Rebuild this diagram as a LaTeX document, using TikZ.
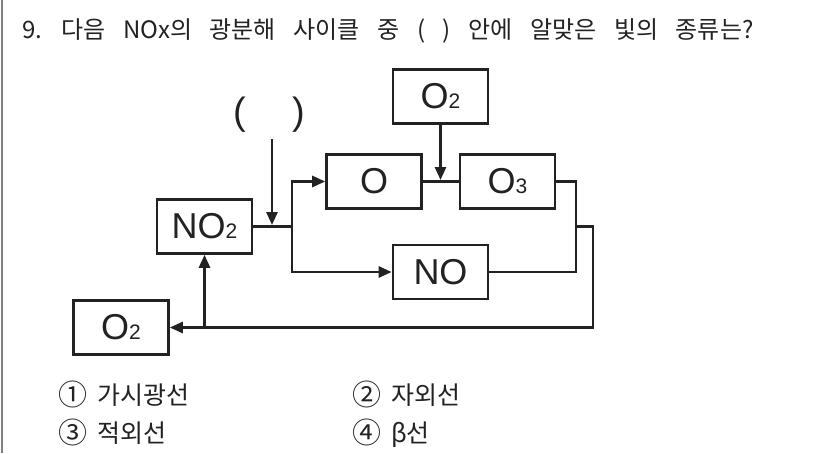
\documentclass[tikz,border=0pt]{standalone}
\usepackage{fontspec}
\setmainfont{Liberation Sans}
\newfontfamily\kr{Noto Sans CJK KR}
\usetikzlibrary{arrows.meta}
\definecolor{ink}{HTML}{222222}
\newcommand\smalldigit[1]{{\fontsize{21}{21}\selectfont #1}}
\newcommand\circnum[1]{{\fontsize{29}{29}\selectfont\raisebox{-1.5pt}{#1}}}
\begin{document}
\begin{tikzpicture}[x=1pt,y=-1pt,
  box/.style={draw=ink,line width=2.6pt,minimum width=95pt,minimum height=54pt,inner sep=0pt,
    font=\fontsize{36}{36}\selectfont,text=ink},
  conn/.style={draw=ink,line width=2.6pt},
  arr/.style={conn,-{Triangle[length=13pt,width=11pt]}},
  krtext/.style={anchor=base west,inner sep=0pt,text=ink},
  opt/.style={krtext,font=\kr\fontsize{25}{25}\selectfont}]
\useasboundingbox (0,0) rectangle (826,453);
\fill[white] (0,0) rectangle (826,453);
\draw[gray,line width=1.5pt] (2,0) -- (2,453);

% question
\node[krtext,font=\kr\fontsize{24}{24}\selectfont] (q) at (22,38)
  {\spaceskip=17.6pt\relax 9. 다음 NOx의 광분해 사이클 중 ( ) 안에 알맞은 빛의 종류는?};

% boxes
\node[box] (o2t) at (440.5,96.5) {O\smalldigit{2}};
\node[box] (o)   at (374,181.5) {O};
\node[box] (o3)  at (507.5,181.5) {O\smalldigit{3}};
\node[box] (no2) at (204.5,226.5) {NO\smalldigit{2}};
\node[box] (no)  at (440.5,272) {NO};
\node[box] (o2b) at (121,327.5) {O\smalldigit{2}};

% blank
\node[inner sep=0pt,text=ink,font=\fontsize{38}{38}\selectfont] (blank) at (269.5,115) {(\hspace{46pt})};

% connectors
\coordinate (pt) at (272,139);
\coordinate (pb) at (272,225);
\coordinate (j1) at (292,226.5);
\coordinate (m)  at (440.5,180);
\coordinate (r1) at (576,226.5);
\coordinate (r2) at (593,327.5);
\coordinate (b1) at (204.5,327.5);

\draw[arr] (pt) -- (pb);
\draw[conn] (no2.east) -- (j1);
\draw[arr] (j1) |- (o.west);
\draw[arr] (j1) |- (no.west);
\draw[conn] (o.east) -- (o3.west);
\draw[arr] (o2t.south) -- (m);
\draw[conn] (o3.east) -| (r1) |- (no.east);
\draw[arr] (r1) -| (r2) -- (o2b.east);
\draw[arr] (b1) -- (no2.south);

% options
\node[opt] (a1) at (58,404) {\circnum{①}\hspace{10pt}가시광선};
\node[opt] (a2) at (352,404) {\circnum{②}\hspace{10pt}자외선};
\node[opt] (a3) at (58,442) {\circnum{③}\hspace{10pt}적외선};
\node[opt] (a4) at (352,442) {\circnum{④}\hspace{10pt}β선};
\end{tikzpicture}
\end{document}
